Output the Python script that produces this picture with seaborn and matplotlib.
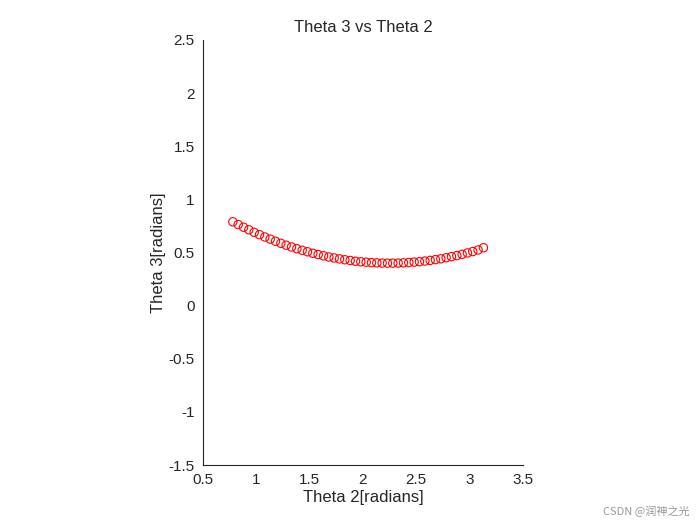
import numpy as np
import pandas as pd
import matplotlib
matplotlib.use('Agg')
import matplotlib.pyplot as plt
import seaborn as sns

theta2 = [0.78, 0.83, 0.88, 0.93, 0.98, 1.03, 1.08, 1.13, 1.18, 1.23, 1.28, 1.33,
          1.38, 1.43, 1.48, 1.53, 1.58, 1.63, 1.68, 1.73, 1.78, 1.83, 1.88, 1.93,
          1.98, 2.03, 2.08, 2.13, 2.18, 2.23, 2.28, 2.33, 2.38, 2.43, 2.48, 2.53,
          2.58, 2.63, 2.68, 2.73, 2.78, 2.83, 2.88, 2.93, 2.98, 3.03, 3.08, 3.13]
theta3 = [0.789, 0.763, 0.738, 0.714, 0.690, 0.668, 0.646, 0.626, 0.606, 0.587, 0.569, 0.552,
          0.536, 0.521, 0.507, 0.493, 0.481, 0.469, 0.458, 0.449, 0.440, 0.432, 0.425, 0.418,
          0.413, 0.409, 0.405, 0.403, 0.401, 0.400, 0.400, 0.401, 0.403, 0.406, 0.410, 0.414,
          0.420, 0.426, 0.433, 0.441, 0.451, 0.461, 0.471, 0.483, 0.496, 0.509, 0.524, 0.545]

df = pd.DataFrame({'theta2': theta2, 'theta3': theta3})

sns.set_style('white')
plt.rcParams['font.family'] = ['Liberation Sans', 'Noto Sans CJK SC']

fig = plt.figure(figsize=(7, 5.25), dpi=100)
ax = fig.add_axes([0.29, 0.114, 0.457, 0.81])
sns.scatterplot(data=df, x='theta2', y='theta3', ax=ax, marker='o', s=36,
                facecolors='none', edgecolor='red', linewidth=0.8)
ax.set_xlim(0.5, 3.5)
ax.set_ylim(-1.5, 2.5)
ax.set_xticks(np.arange(0.5, 3.51, 0.5))
ax.set_yticks(np.arange(-1.5, 2.51, 0.5))
ax.set_xticklabels(['0.5', '1', '1.5', '2', '2.5', '3', '3.5'])
ax.set_yticklabels(['-1.5', '-1', '-0.5', '0', '0.5', '1', '1.5', '2', '2.5'])
ax.tick_params(direction='in', length=4, pad=6, labelsize=11, colors='#262626')
for s in ['top', 'right']:
    ax.spines[s].set_visible(False)
for s in ['left', 'bottom']:
    ax.spines[s].set_color('#262626')
ax.set_xlabel('Theta 2[radians]', fontsize=12, labelpad=2)
ax.set_ylabel('Theta 3[radians]', fontsize=12, labelpad=2)
ax.set_title('Theta 3 vs Theta 2', fontsize=12)
fig.text(0.985, 0.015, 'CSDN @润神之光', ha='right', va='bottom', fontsize=8,
         color='#999999', family=['Noto Sans CJK SC', 'DejaVu Sans'])
fig.savefig('out.png', dpi=100)
